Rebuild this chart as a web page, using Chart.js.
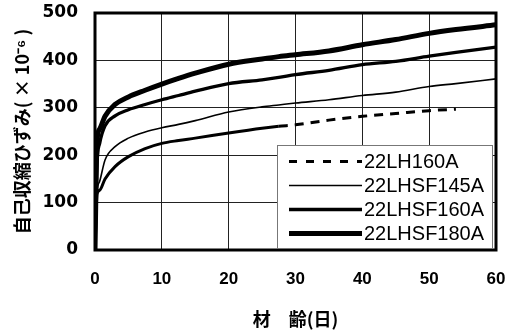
<!DOCTYPE html>
<html>
<head>
<meta charset="utf-8">
<script src="https://cdn.jsdelivr.net/npm/chart.js@4.4.1/dist/chart.umd.min.js"></script>
<style>
html,body{margin:0;padding:0;background:#fff;}
#wrap{width:512px;height:331px;position:relative;}
</style>
</head>
<body>
<div id="wrap"><canvas id="c" width="512" height="331"></canvas></div>
<script>
// Age (days)
const ages = [0, 0.3, 0.7, 1.5, 3, 5, 7.5, 10, 12.5, 15, 20, 25, 27.5, 30, 35, 40, 45, 50, 54, 60];
// Autogenous shrinkage (x10^-6)
const lh160a   = [0, 118, 126, 150, 176, 197, 214, 225, 231, 236, 247, 257, 261, 264, 274, 282, 288, 294, 297, null];
const lhsf145a = [0, 120, 145, 190, 218, 236, 249, 258, 265, 273, 291, 302, 306, 310, 317, 326, 333, 345, 351, 361];
const lhsf160a = [0, 180, 225, 262, 283, 296, 307, 317, 326, 335, 351, 359, 364, 370, 379, 391, 398, 409, 417, 428];
const lhsf180a = [0, 230, 255, 282, 307, 323, 337, 350, 362, 373, 392, 403, 408, 412, 420, 433, 444, 457, 465, 475];
const seriesNames = ['22LH160A', '22LHSF145A', '22LHSF160A', '22LHSF180A'];
const xTicks = [0, 10, 20, 30, 40, 50, 60];
const yTicks = [0, 100, 200, 300, 400, 500];
const xTitle = '材　齢(日)';
const yTitle = '自己収縮ひずみ( × 10⁻⁶ )';
const dashStartAge = 27.5;

const toPts = vals => ages.map((a, i) => ({x: a, y: vals[i]}));

const legendPlugin = {
  id: 'boxLegend',
  afterDatasetsDraw(chart) {
    const ctx = chart.ctx;
    const area = chart.chartArea;
    // frame
    ctx.save();
    ctx.strokeStyle = '#000';
    ctx.lineWidth = 3;
    ctx.strokeRect(area.left, area.top, area.right - area.left, area.bottom - area.top);
    // legend box
    const bx = 277, by = 145, bw = 215, bh = 103;
    ctx.fillStyle = '#fff';
    ctx.fillRect(bx, by, bw, bh);
    ctx.strokeStyle = '#777';
    ctx.lineWidth = 1;
    ctx.strokeRect(bx + 0.5, by + 0.5, bw, bh);
    const rows = [161.5, 185.5, 209.5, 233.5];
    ctx.font = '20px "Liberation Sans", Arial, sans-serif';
    ctx.textBaseline = 'middle';
    ctx.textAlign = 'left';
    chart.data.datasets.forEach((ds, i) => {
      const y = rows[i];
      ctx.beginPath();
      ctx.strokeStyle = '#000';
      ctx.lineWidth = ds.borderWidth;
      ctx.setLineDash(ds.legendDash || []);
      ctx.moveTo(289, y);
      ctx.lineTo(362, y);
      ctx.stroke();
      ctx.setLineDash([]);
      ctx.fillStyle = '#000';
      ctx.fillText(ds.label, 364, y + 1);
    });
    ctx.restore();
  }
};

new Chart(document.getElementById('c'), {
  type: 'line',
  data: {
    datasets: [
      {label: seriesNames[0], data: toPts(lh160a), borderColor: '#000', borderWidth: 3,
       legendDash: [8, 9],
       segment: {borderDash: c => (c.p0.parsed.x >= dashStartAge ? [9, 7] : [])}},
      {label: seriesNames[1], data: toPts(lhsf145a), borderColor: '#000', borderWidth: 1.6},
      {label: seriesNames[2], data: toPts(lhsf160a), borderColor: '#000', borderWidth: 3.3},
      {label: seriesNames[3], data: toPts(lhsf180a), borderColor: '#000', borderWidth: 5}
    ]
  },
  options: {
    responsive: false,
    animation: false,
    devicePixelRatio: 1,
    layout: {padding: {left: 0, right: 16, top: 13, bottom: 0}},
    elements: {point: {radius: 0}, line: {cubicInterpolationMode: 'monotone', borderCapStyle: 'butt'}},
    plugins: {legend: {display: false}, tooltip: {enabled: false}},
    scales: {
      x: {
        type: 'linear', min: 0, max: 60,
        afterBuildTicks: s => { s.ticks = xTicks.map(v => ({value: v})); },
        afterFit: s => { s.height = 81; },
        grid: {color: '#222', lineWidth: 1, drawTicks: true, tickLength: 19, tickColor: 'rgba(0,0,0,0)'},
        border: {display: false},
        ticks: {color: '#000', padding: 0, font: {family: '"Liberation Sans", Arial, sans-serif', size: 17, weight: 'bold'}},
        title: {display: true, text: xTitle, color: '#000', padding: {top: 0, bottom: 1},
                font: {family: '"Noto Sans CJK JP", sans-serif', size: 18, weight: 'bold'}}
      },
      y: {
        type: 'linear', min: 0, max: 500,
        afterBuildTicks: s => { s.ticks = yTicks.map(v => ({value: v})); },
        afterFit: s => { s.width = 95; },
        grid: {color: '#222', lineWidth: 1, drawTicks: true, tickLength: 17, tickColor: 'rgba(0,0,0,0)'},
        border: {display: false},
        ticks: {color: '#000', padding: 0, font: {family: '"DejaVu Sans", sans-serif', size: 17, weight: 'bold'}},
        title: {display: true, text: yTitle, color: '#000', padding: {top: 11, bottom: 0},
                font: {family: '"Noto Sans CJK JP", sans-serif', size: 18, weight: 'bold'}}
      }
    }
  },
  plugins: [legendPlugin]
});
</script>
</body>
</html>
